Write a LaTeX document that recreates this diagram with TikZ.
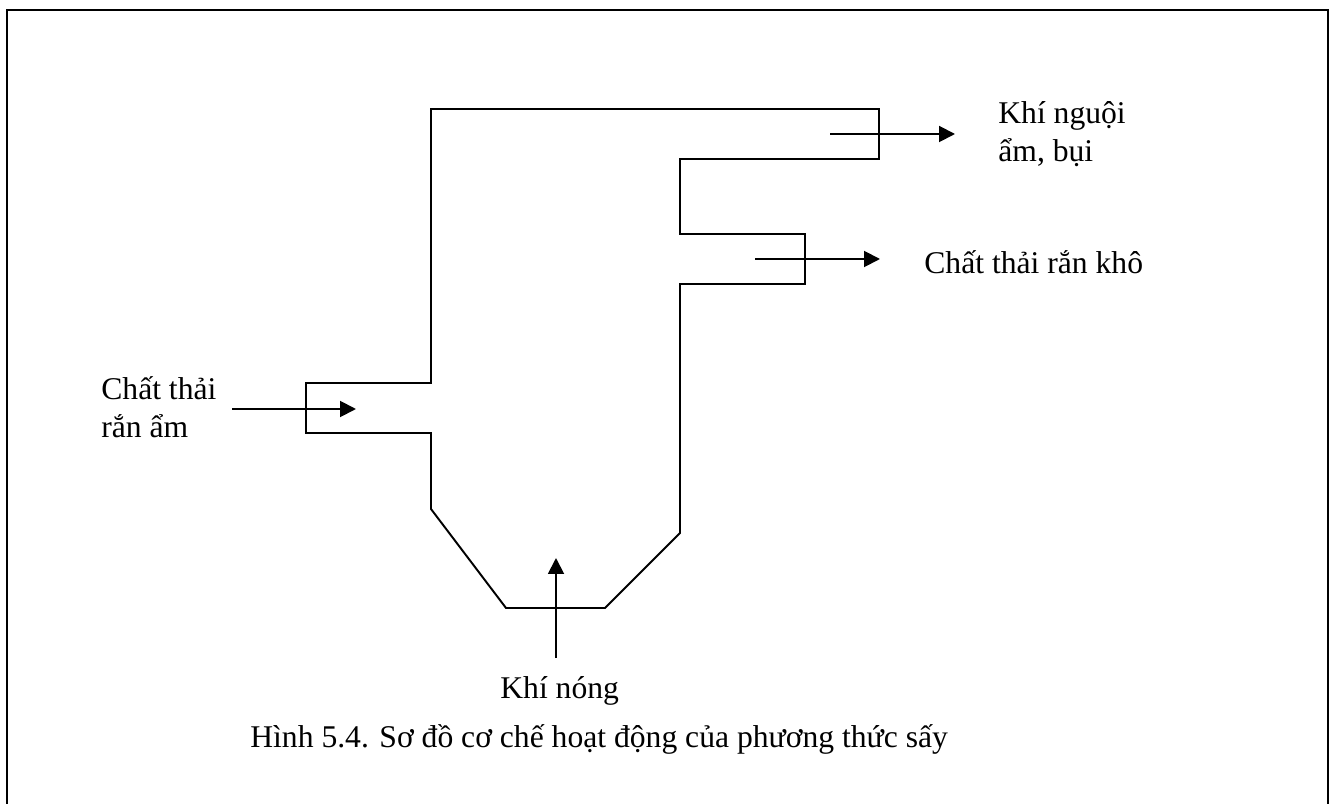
\documentclass[tikz,border=0pt]{standalone}
\usepackage{fontspec}
\setmainfont{Liberation Serif}
\usetikzlibrary{arrows.meta}
\tikzset{
    wall/.style={line width=1.1pt},
    flow/.style={line width=1.1pt, -{Triangle[length=9pt,width=9pt]}},
    label/.style={align=left, inner sep=0pt, anchor=west, font=\fontsize{18}{21.5}\selectfont},
    line/.style={label, anchor=base west}
}
\begin{document}
\begin{tikzpicture}[x=0.02cm, y=-0.02cm]
    \useasboundingbox (0,0) rectangle (1333,804);

    % Frame
    \draw[wall] (7,804) -- (7,10) -- (1328,10) -- (1328,804);

    % Dryer outline
    \draw[wall] (431,383) -- (306,383) -- (306,433) -- (431,433) -- (431,509)
        -- (506,608) -- (605,608) -- (680,533) -- (680,284) -- (805,284)
        -- (805,234) -- (680,234) -- (680,159) -- (879,159) -- (879,109)
        -- (431,109) -- cycle;

    % Anchors of the streams
    \coordinate (inS) at (232,409);
    \coordinate (inE) at (356,409);
    \coordinate (gasS) at (556,658);
    \coordinate (gasE) at (556,558);
    \coordinate (outS) at (755,259);
    \coordinate (outE) at (880,259);
    \coordinate (airS) at (830,134);
    \coordinate (airE) at (955,134);

    % Streams
    \draw[flow] (inS) -- (inE);
    \draw[flow] (gasS) -- (gasE);
    \draw[flow] (outS) -- (outE);
    \draw[flow] (airS) -- (airE);

    % Labels
    \node[label] (air) at (998,134) {Khí nguội\\ẩm, bụi};
    \node[line] (solidDry) at (924,274) {Chất thải rắn khô};
    \node[label] (solidWet) at (101,407) {Chất thải\\rắn ẩm};
    \node[line] (gas) at (500,698) {Khí nóng};
    \node[line] (caption) at (250,747) {Hình 5.4. Sơ đồ cơ chế hoạt động của phương thức sấy};
\end{tikzpicture}
\end{document}
